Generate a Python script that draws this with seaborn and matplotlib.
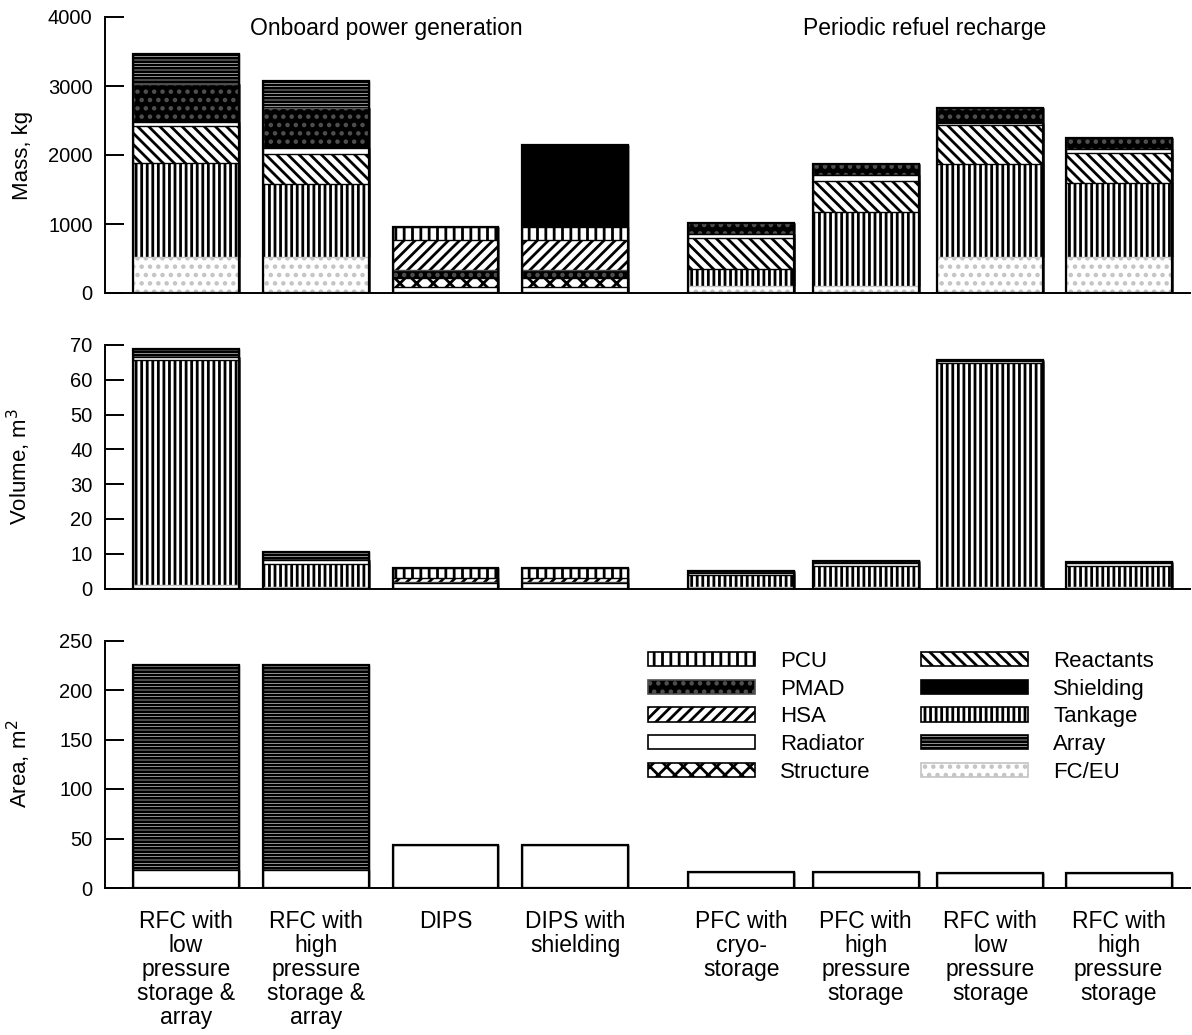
import numpy as np
import matplotlib
matplotlib.use("Agg")
import matplotlib.pyplot as plt
from matplotlib.patches import Patch
import seaborn as sns

# ---- systems compared -------------------------------------------------------
systems = [
    "RFC with\nlow\npressure\nstorage &\narray",
    "RFC with\nhigh\npressure\nstorage &\narray",
    "DIPS",
    "DIPS with\nshielding",
    "PFC with\ncryo-\nstorage",
    "PFC with\nhigh\npressure\nstorage",
    "RFC with\nlow\npressure\nstorage",
    "RFC with\nhigh\npressure\nstorage",
]
group_titles = ["Onboard power generation", "Periodic refuel recharge"]

# ---- mass, kg ---------------------------------------------------------------
mass_fceu = [520, 520, 0, 0, 100, 100, 520, 520]
mass_tankage = [1360, 1060, 0, 0, 250, 1070, 1350, 1070]
mass_reactants = [540, 435, 0, 0, 450, 450, 565, 435]
mass_radiator = [55, 85, 85, 85, 58, 85, 30, 58]
mass_structure = [0, 0, 130, 130, 0, 0, 0, 0]
mass_pmad = [560, 580, 120, 120, 160, 160, 210, 170]
mass_hsa = [0, 0, 440, 440, 0, 0, 0, 0]
mass_pcu = [0, 0, 175, 175, 0, 0, 0, 0]
mass_shielding = [0, 0, 0, 1200, 0, 0, 0, 0]
mass_array = [430, 390, 0, 0, 0, 0, 0, 0]

# ---- volume, m^3 ------------------------------------------------------------
vol_fceu = [1.0, 0.5, 0, 0, 0.3, 0.3, 0.5, 0.5]
vol_tankage = [64.7, 6.5, 0, 0, 3.7, 6.1, 64.3, 6.1]
vol_radiator = [0.8, 1.2, 1.6, 1.6, 0.5, 0.9, 0.5, 0.6]
vol_pmad = [0, 0, 0.4, 0.4, 0.4, 0.5, 0.3, 0.4]
vol_hsa = [0, 0, 0.9, 0.9, 0, 0, 0, 0]
vol_pcu = [0, 0, 2.9, 2.9, 0, 0, 0, 0]
vol_array = [2.3, 2.4, 0, 0, 0, 0, 0, 0]

# ---- area, m^2 --------------------------------------------------------------
area_radiator = [18, 18, 43, 43, 16, 16, 15, 15]
area_array = [207, 207, 0, 0, 0, 0, 0, 0]

legend_order = ["PCU", "PMAD", "HSA", "Radiator", "Structure",
                "Reactants", "Shielding", "Tankage", "Array", "FC/EU"]
stack_order = ["FC/EU", "Tankage", "Reactants", "Radiator", "Structure",
               "PMAD", "HSA", "PCU", "Shielding", "Array"]

# face colour, hatch colour, hatch pattern
styles = {
    "PCU": ("white", "black", "||"),
    "PMAD": ("black", "#505050", ".."),
    "HSA": ("white", "black", "///"),
    "Radiator": ("white", "black", None),
    "Structure": ("white", "black", "xx"),
    "Reactants": ("white", "black", "\\\\\\"),
    "Shielding": ("black", "black", None),
    "Tankage": ("white", "black", "|||"),
    "Array": ("white", "black", "-----"),
    "FC/EU": ("white", "#c4c4c4", ".."),
}

mass_parts = {
    "FC/EU": mass_fceu, "Tankage": mass_tankage, "Reactants": mass_reactants,
    "Radiator": mass_radiator, "Structure": mass_structure, "PMAD": mass_pmad,
    "HSA": mass_hsa, "PCU": mass_pcu, "Shielding": mass_shielding,
    "Array": mass_array,
}
vol_parts = {
    "FC/EU": vol_fceu, "Tankage": vol_tankage, "Radiator": vol_radiator,
    "PMAD": vol_pmad, "HSA": vol_hsa, "PCU": vol_pcu, "Array": vol_array,
}
area_parts = {"Radiator": area_radiator, "Array": area_array}

# ---- style ------------------------------------------------------------------
sns.set_style("ticks")
plt.rcParams["font.family"] = ["Liberation Sans", "DejaVu Sans"]
plt.rcParams["hatch.linewidth"] = 2.0
plt.rcParams["axes.linewidth"] = 1.4
for key in ("text.color", "axes.labelcolor", "axes.edgecolor",
            "xtick.color", "ytick.color"):
    plt.rcParams[key] = "black"
FS_TICK = 14.5
FS_TEXT = 16.5
FS_LAB = 16

slot = np.array([0, 1, 2, 3, 4.28, 5.24, 6.2, 7.19])
bar_w = 0.85

fig = plt.figure(figsize=(11.92, 10.35), dpi=100)
W, H = 1192, 1035


def px_axes(left, top, right, bottom):
    return fig.add_axes([left / W, 1 - bottom / H, (right - left) / W, (bottom - top) / H])


ax_mass = px_axes(105, 17, 1190, 293)
ax_vol = px_axes(105, 345, 1190, 588.5)
ax_area = px_axes(105, 640.5, 1190, 888)


def stacked(ax, parts, ymax, step, ylabel):
    total = np.zeros(len(slot))
    tops = {}
    for comp in stack_order:
        if comp in parts:
            total = total + np.asarray(parts[comp], dtype=float)
            tops[comp] = total.copy()
    # tallest cumulative layer first, each lower layer painted over it
    for comp in reversed(stack_order):
        if comp not in tops:
            continue
        face, edge, hatch = styles[comp]
        sns.barplot(x=slot, y=tops[comp], native_scale=True, width=bar_w,
                    color=face, saturation=1, edgecolor=edge, hatch=hatch,
                    linewidth=1.0, errorbar=None, ax=ax)
    sns.barplot(x=slot, y=total, native_scale=True, width=bar_w, fill=False,
                color="black", linewidth=1.6, errorbar=None, ax=ax)
    ax.set_xlim(-0.625, 7.74)
    ax.set_ylim(0, ymax)
    ax.set_yticks(np.arange(0, ymax + step / 2, step))
    ax.tick_params(axis="y", direction="in", length=14, width=1.4,
                   labelsize=FS_TICK, pad=9)
    ax.tick_params(axis="x", length=0)
    ax.set_ylabel(ylabel, fontsize=FS_LAB)
    ax.yaxis.set_label_coords(-0.066, 0.5)
    sns.despine(ax=ax)


stacked(ax_mass, mass_parts, 4000, 1000, "Mass, kg")
stacked(ax_vol, vol_parts, 70, 10, "Volume, m$^3$")
stacked(ax_area, area_parts, 250, 50, "Area, m$^2$")

for ax in (ax_mass, ax_vol):
    ax.set_xticks([])
ax_area.set_xticks(slot)
ax_area.set_xticklabels(systems, fontsize=FS_TEXT, linespacing=1.065, va="top")
ax_area.tick_params(axis="x", pad=15.5)

fig.text(386 / W, 1 - 28 / H, group_titles[0], ha="center", va="center", fontsize=FS_TEXT)
fig.text(925 / W, 1 - 28 / H, group_titles[1], ha="center", va="center", fontsize=FS_TEXT)

handles = []
for comp in legend_order:
    face, edge, hatch = styles[comp]
    handles.append(Patch(facecolor=face, edgecolor=edge, hatch=hatch,
                         linewidth=1.2, label=comp))
ax_area.legend(handles=handles, ncol=2, loc="upper left",
               bbox_to_anchor=(648 / W, 1 - 651 / H),
               bbox_transform=fig.transFigure, frameon=False, fontsize=FS_LAB,
               handlelength=4.8, handleheight=0.63, handletextpad=1.13,
               columnspacing=2.3, labelspacing=0.3, borderpad=0,
               borderaxespad=0)

fig.savefig("out.png", dpi=100)
